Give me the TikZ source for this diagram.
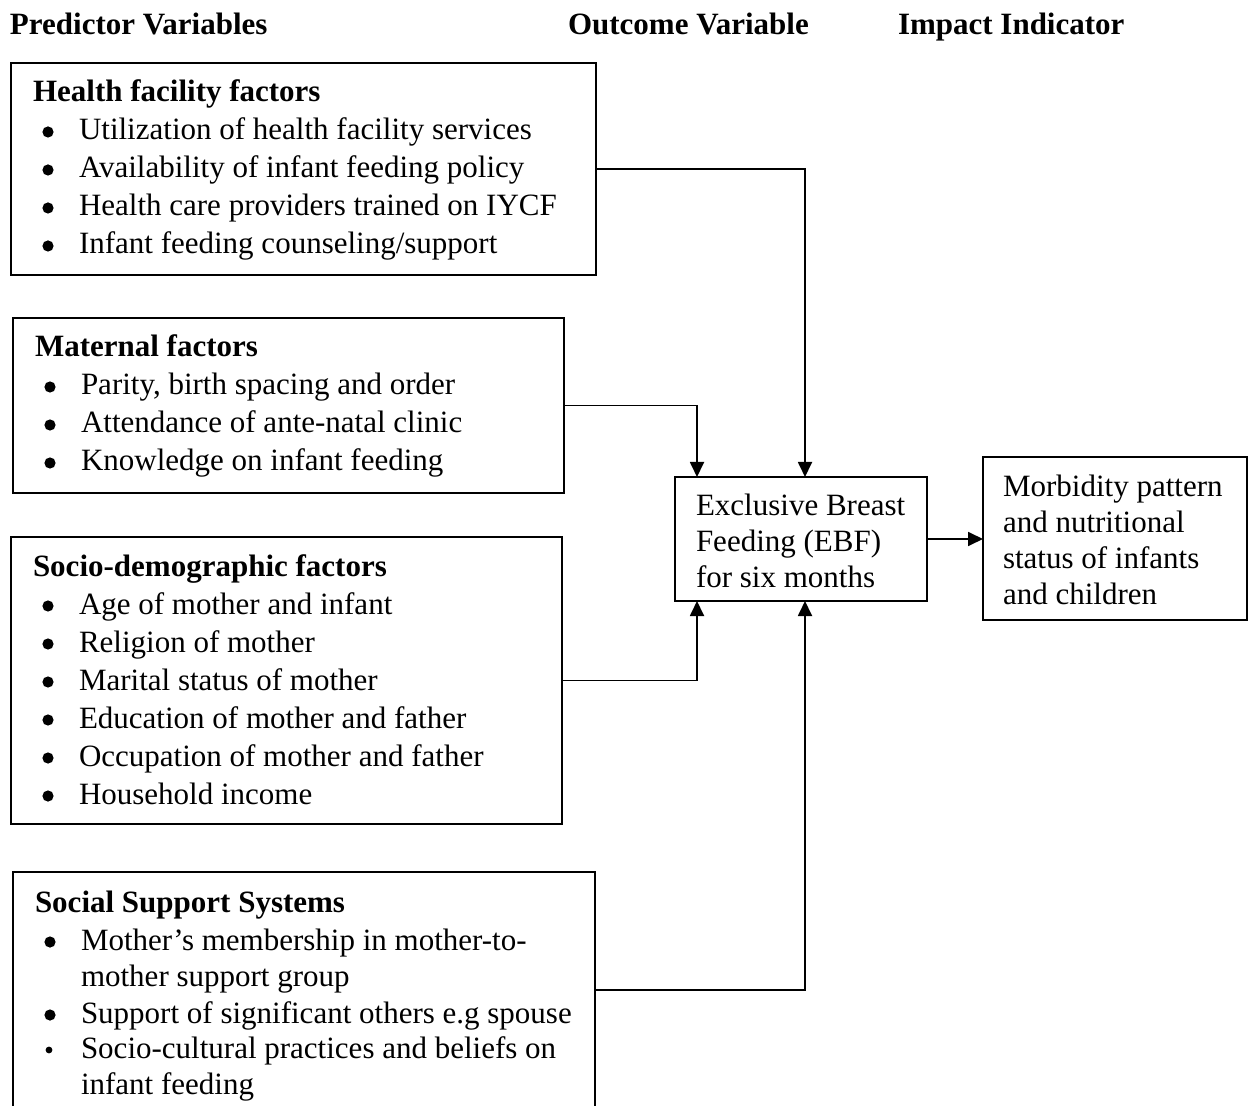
\documentclass[tikz,border=0pt]{standalone}
\usepackage{fontspec}
\setmainfont{Liberation Serif}
\usetikzlibrary{arrows.meta}

\begin{document}
\begin{tikzpicture}[x=0.5pt,y=-0.5pt,
  every node/.style={inner sep=0pt, outer sep=0pt, font=\fontsize{15.5}{19}\selectfont},
  box/.style={draw, line width=0.7pt, anchor=north west},
  txt/.style={anchor=base west},
  head/.style={anchor=base west, font=\fontsize{15.5}{19}\selectfont\bfseries},
  conn/.style={line width=0.9pt, -{Triangle[length=7.5pt,width=7pt]}}]
\useasboundingbox (0,0) rectangle (1252,1106);

% column headings
\node[head] (hpred) at (10,35) {Predictor Variables};
\node[head] (hout) at (568,35) {Outcome Variable};
\node[head] (himp) at (898,35) {Impact Indicator};

% boxes
\node[box, minimum width=292.5pt, minimum height=106pt] (hf) at (11,63) {};
\node[box, minimum width=275.5pt, minimum height=87.5pt] (mat) at (13,318) {};
\node[box, minimum width=275.5pt, minimum height=143.5pt] (soc) at (11,537) {};
\node[box, minimum width=291pt, minimum height=118pt] (sup) at (13,872) {};
\node[box, minimum width=126pt, minimum height=62pt] (ebf) at (675,477) {};
\node[box, minimum width=132pt, minimum height=81.5pt] (out) at (983,457) {};

% health facility factors
\node[head] (hft) at (33,102) {Health facility factors};
\node[txt] (hf1) at (79,140) {Utilization of health facility services};
\node[txt] (hf2) at (79,178) {Availability of infant feeding policy};
\node[txt] (hf3) at (79,216) {Health care providers trained on IYCF};
\node[txt] (hf4) at (79,254) {Infant feeding counseling/support};

% maternal factors
\node[head] (matt) at (35,357) {Maternal factors};
\node[txt] (mat1) at (81,395) {Parity, birth spacing and order};
\node[txt] (mat2) at (81,433) {Attendance of ante-natal clinic};
\node[txt] (mat3) at (81,471) {Knowledge on infant feeding};

% socio-demographic factors
\node[head] (soct) at (33,576) {Socio-demographic factors};
\node[txt] (soc1) at (79,614) {Age of mother and infant};
\node[txt] (soc2) at (79,652) {Religion of mother};
\node[txt] (soc3) at (79,690) {Marital status of mother};
\node[txt] (soc4) at (79,728) {Education of mother and father};
\node[txt] (soc5) at (79,766) {Occupation of mother and father};
\node[txt] (soc6) at (79,804) {Household income};

% social support systems
\node[head] (supt) at (35,912) {Social Support Systems};
\node[txt] (sup1) at (81,950) {Mother’s membership in mother-to-};
\node[txt] (sup1b) at (81,986) {mother support group};
\node[txt] (sup2) at (81,1023) {Support of significant others e.g spouse};
\node[txt] (sup3) at (81,1058) {Socio-cultural practices and beliefs on};
\node[txt] (sup3b) at (81,1094) {infant feeding};

% bullets
\foreach \n in {hf1,hf2,hf3,hf4,mat1,mat2,mat3,soc1,soc2,soc3,soc4,soc5,soc6,sup1,sup2}
  \fill ([shift={(-31,-8)}]\n.base west) circle (2.8pt);
\fill ([shift={(-32,-8)}]sup3.base west) circle (1.7pt);

% outcome and impact
\node[txt] (ebf1) at (696,516) {Exclusive Breast};
\node[txt] (ebf2) at (696,552) {Feeding (EBF)};
\node[txt] (ebf3) at (696,587) {for six months};
\node[txt] (out1) at (1003,496) {Morbidity pattern};
\node[txt] (out2) at (1003,532) {and nutritional};
\node[txt] (out3) at (1003,568) {status of infants};
\node[txt] (out4) at (1003,604) {and children};

% connectors
\draw[conn] (hf.east) -| ([xshift=65pt]ebf.north west);
\draw[conn] (mat.east) -| ([xshift=11pt]ebf.north west);
\draw[conn] (soc.east) -| ([xshift=11pt]ebf.south west);
\draw[conn] (sup.east) -| ([xshift=65pt]ebf.south west);
\draw[conn] (ebf.east) -- (out.west |- ebf.east);
\end{tikzpicture}
\end{document}
